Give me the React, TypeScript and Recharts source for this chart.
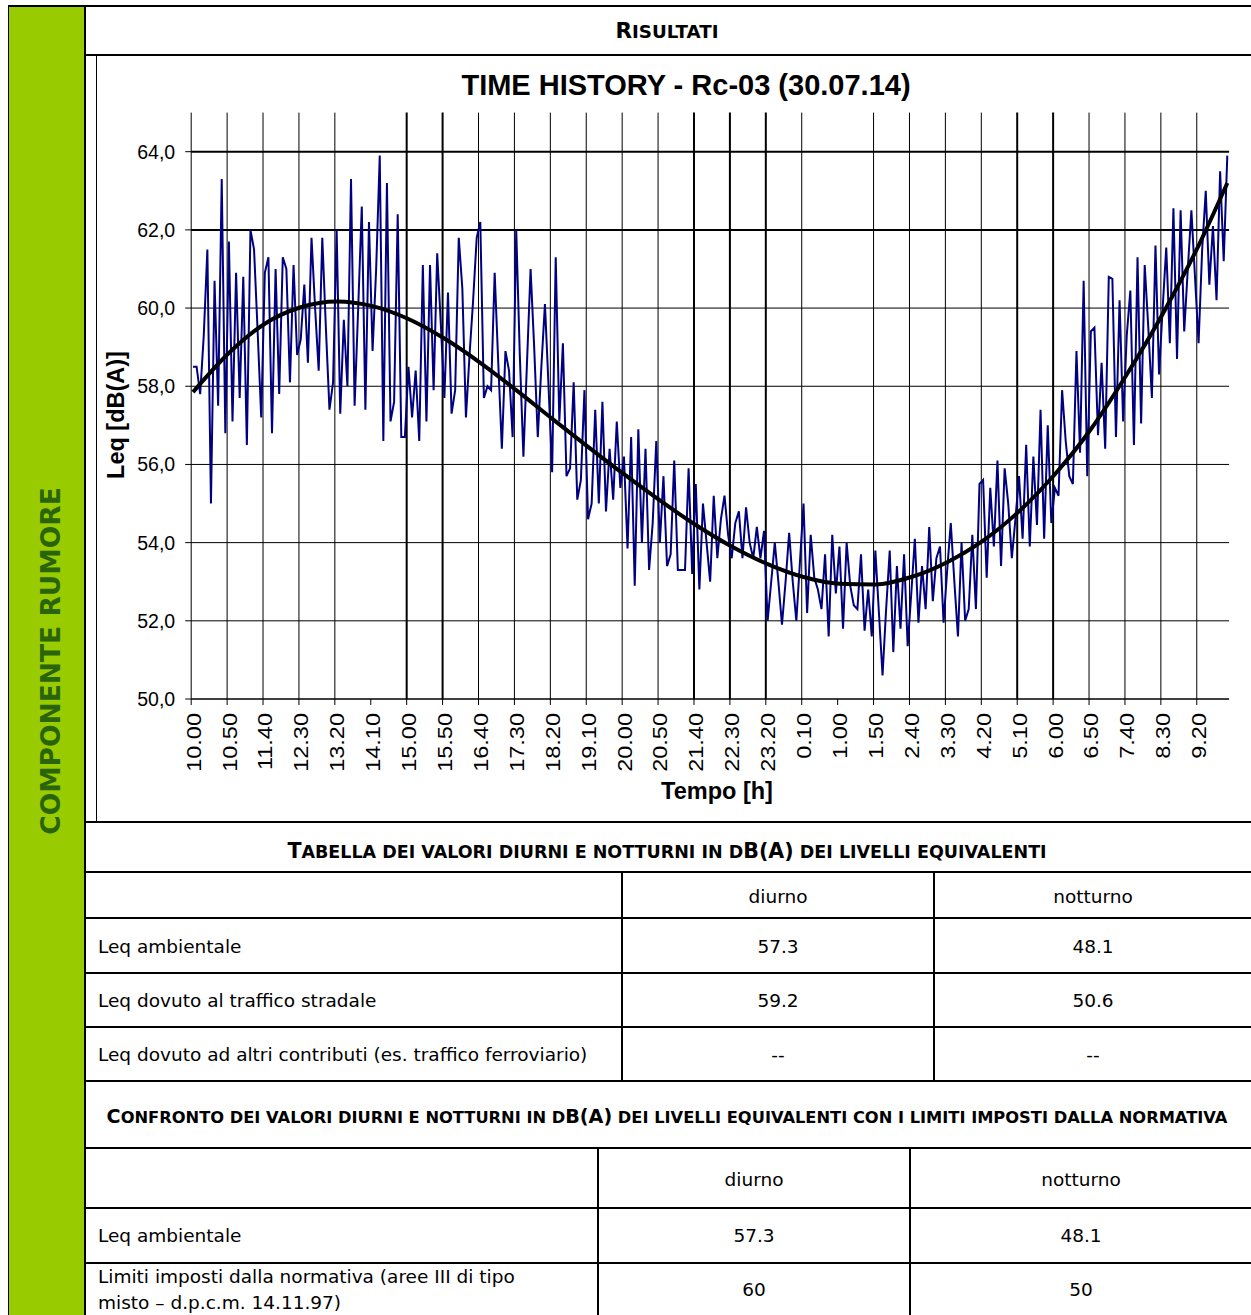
import React from 'react';
import { LineChart, Line, XAxis, YAxis, ReferenceLine } from 'recharts';

// tick labels of the time axis, one every 10 samples (5 min each)
const TIME_LABELS = [
  '10.00', '10.50', '11.40', '12.30', '13.20', '14.10', '15.00', '15.50', '16.40', '17.30',
  '18.20', '19.10', '20.00', '20.50', '21.40', '22.30', '23.20', '0.10', '1.00', '1.50',
  '2.40', '3.30', '4.20', '5.10', '6.00', '6.50', '7.40', '8.30', '9.20',
];

// Leq samples, dB(A)
const LEQ = [
  58.5, 58.5, 57.8, 59.3, 61.5, 55.0, 60.7, 57.5, 63.3, 56.8,
  61.7, 57.1, 60.9, 57.7, 60.8, 56.5, 62.0, 61.5, 59.4, 57.2,
  60.9, 61.3, 56.8, 61.0, 57.8, 61.3, 61.0, 58.1, 61.1, 58.8,
  59.2, 60.6, 58.6, 61.8, 60.0, 58.4, 61.8, 59.5, 57.4, 58.1,
  62.0, 57.3, 59.7, 58.0, 63.3, 57.5, 60.0, 62.6, 57.4, 62.2,
  58.9, 61.0, 63.9, 56.6, 63.2, 57.1, 57.6, 62.4, 56.7, 56.7,
  58.5, 57.2, 58.4, 56.6, 61.1, 57.1, 61.1, 57.9, 61.4, 59.6,
  57.7, 60.4, 57.3, 57.9, 61.8, 60.5, 57.2, 58.8, 60.2, 61.8,
  62.2, 57.7, 58.0, 57.9, 60.9, 58.6, 56.4, 58.9, 58.4, 56.7,
  62.0, 58.8, 56.2, 58.6, 61.0, 59.0, 56.7, 58.5, 60.1, 58.0,
  55.8, 61.3, 57.1, 59.1, 55.7, 55.9, 58.1, 55.1, 55.6, 57.9,
  54.6, 55.0, 57.4, 55.0, 57.6, 54.8, 56.4, 55.1, 57.1, 55.4,
  56.2, 53.85, 56.7, 52.9, 56.9, 54.0, 56.4, 53.3, 54.5, 56.6,
  54.0, 55.7, 53.4, 53.7, 56.1, 53.3, 53.3, 53.3, 55.9, 53.2,
  55.5, 52.8, 55.0, 54.0, 53.0, 55.2, 53.6, 54.6, 55.2, 54.2,
  53.6, 54.5, 54.8, 53.6, 54.9, 54.0, 53.6, 54.4, 53.6, 54.3,
  52.0, 53.0, 54.0, 53.0, 51.9, 53.0, 54.25, 53.0, 52.0, 53.5,
  55.0, 52.2, 54.2, 53.1, 52.8, 52.3, 53.7, 51.6, 54.2, 52.7,
  53.9, 51.8, 54.0, 52.9, 52.4, 52.3, 53.7, 51.75, 52.8, 51.6,
  53.8, 52.2, 50.6, 52.3, 53.8, 51.2, 53.4, 51.8, 53.7, 51.35,
  52.7, 54.1, 51.95, 53.4, 52.3, 54.4, 52.5, 53.6, 53.9, 51.95,
  53.3, 54.5, 53.0, 51.6, 54.0, 52.0, 52.3, 54.2, 52.3, 55.5,
  55.6, 53.1, 55.4, 53.9, 56.1, 53.4, 55.9, 55.0, 53.6, 54.6,
  55.7, 54.1, 56.5, 53.9, 56.2, 54.45, 57.4, 54.1, 57.0, 54.5,
  55.4, 55.2, 57.9, 56.6, 55.7, 55.5, 58.9, 56.3, 60.7, 55.7,
  59.4, 59.5, 56.75, 58.6, 56.4, 60.8, 60.75, 56.7, 60.2, 57.1,
  59.3, 60.45, 56.5, 61.3, 57.05, 61.1, 59.5, 57.7, 61.6, 58.3,
  60.0, 61.55, 59.1, 62.55, 58.7, 62.5, 59.4, 61.0, 62.5, 60.8,
  59.1, 61.5, 63.0, 60.6, 62.1, 60.2, 63.5, 61.2, 63.9,
];

// polynomial trend read at the labelled samples
const TREND_AT = [0, 10, 20, 30, 40, 50, 60, 70, 80, 90, 100, 110, 120, 130, 140, 150, 160, 170, 180, 190, 200, 210, 220, 230, 240, 250, 260, 270, 280, 288];
const TREND_DB = [
  57.85, 58.85, 59.6, 60.02, 60.17, 60.05, 59.72, 59.22, 58.6, 57.9,
  57.17, 56.45, 55.75, 55.08, 54.45, 53.9, 53.45, 53.12, 52.95, 52.93,
  53.12, 53.5, 54.05, 54.8, 55.75, 56.9, 58.3, 59.85, 61.6, 63.2,
];

const Y_TICKS = [50, 52, 54, 56, 58, 60, 62, 64];
const X_TICKS = TIME_LABELS.map((_, j) => j * 10 - 0.5);
// labels whose vertical gridline is missing in the original, and the heavier ones
const NO_GRID = [5, 18];
const BOLD_GRID = [6, 7, 14, 15, 16, 23, 24];

const noiseRows = LEQ.map((v, k) => ({ k, leq: v }));
const trendRows = TREND_AT.map((k, i) => ({ k, trend: TREND_DB[i] }));

const CHART_FONT = "'Liberation Sans', Arial, sans-serif";
const DOC_FONT = "'DejaVu Sans', Verdana, sans-serif";

function TimeTick(props: any) {
  const { x, y, payload } = props;
  const label = TIME_LABELS[Math.round((payload.value + 0.5) / 10)];
  return (
    <text
      transform={`translate(${x + 9.4},${y + 6}) rotate(-90) scale(1.12,1)`}
      textAnchor="end"
      fontFamily={CHART_FONT}
      fontSize={21}
      fill="#000"
    >
      {label}
    </text>
  );
}

function DbTick(props: any) {
  const { x, y, payload } = props;
  return (
    <text x={x - 8} y={y} dy={7} textAnchor="end" fontFamily={CHART_FONT} fontSize={19.5} fill="#000">
      {payload.value.toFixed(1).replace('.', ',')}
    </text>
  );
}

function SmallCaps({ text, size, ratio = 0.85 }: { text: string; size: number; ratio?: number }) {
  // capitals stay full size, lower case letters become smaller capitals
  const runs: { s: string; small: boolean }[] = [];
  for (const ch of text) {
    const small = ch !== ch.toUpperCase() || ch === ' ';
    const last = runs[runs.length - 1];
    if (last && last.small === small) last.s += ch;
    else runs.push({ s: ch, small });
  }
  return (
    <>
      {runs.map((r, i) => (
        <span key={i} style={{ fontSize: r.small ? size * ratio : size }}>
          {r.s.toUpperCase()}
        </span>
      ))}
    </>
  );
}

function HLine({ y, x1, x2, w = 2 }: { y: number; x1: number; x2: number; w?: number }) {
  return <div style={{ position: 'absolute', left: x1, top: y, width: x2 - x1, height: w, background: '#000' }} />;
}

function VLine({ x, y1, y2, w = 2 }: { x: number; y1: number; y2: number; w?: number }) {
  return <div style={{ position: 'absolute', left: x, top: y1, width: w, height: y2 - y1, background: '#000' }} />;
}

function Txt({ x, y, children, align = 'center', size = 18.5, bold = false, font = DOC_FONT }: any) {
  const base: React.CSSProperties = {
    position: 'absolute',
    top: y - 15,
    height: 30,
    lineHeight: '30px',
    fontFamily: font,
    fontSize: size,
    fontWeight: bold ? 'bold' : 'normal',
    whiteSpace: 'nowrap',
    color: '#000',
  };
  if (align === 'left') return <div style={{ ...base, left: x }}>{children}</div>;
  return <div style={{ ...base, left: x - 700, width: 1400, textAlign: 'center' }}>{children}</div>;
}

export default function App() {
  return (
    <div style={{ position: 'absolute', left: 0, top: 0, width: 1251, height: 1315, overflow: 'hidden', background: '#fff' }}>
      {/* green side column */}
      <div style={{ position: 'absolute', left: 8, top: 5, width: 77, height: 1320, background: '#99cc00' }} />
      <div
        style={{
          position: 'absolute',
          left: 50,
          top: 661,
          transform: 'translate(-50%, -50%) rotate(-90deg)',
          whiteSpace: 'nowrap',
          fontFamily: DOC_FONT,
          fontWeight: 'bold',
          fontSize: 26.5,
          color: '#2a6408',
        }}
      >
        COMPONENTE RUMORE
      </div>
      <VLine x={8} y1={5} y2={1315} w={1} />
      <VLine x={84} y1={5} y2={1315} />
      <HLine y={5} x1={8} x2={1251} />

      {/* header */}
      <Txt x={667} y={31} bold size={21.5}>
        <SmallCaps text="Risultati" size={21.5} />
      </Txt>
      <HLine y={54} x1={85} x2={1251} />

      {/* chart */}
      <VLine x={96} y1={56} y2={822} w={1} />
      <Txt x={686} y={85} bold size={29} font={CHART_FONT}>
        TIME HISTORY - Rc-03 (30.07.14)
      </Txt>
      <div
        style={{
          position: 'absolute',
          left: 116,
          top: 415,
          transform: 'translate(-50%, -50%) rotate(-90deg)',
          whiteSpace: 'nowrap',
          fontFamily: CHART_FONT,
          fontWeight: 'bold',
          fontSize: 23.5,
        }}
      >
        Leq [dB(A)]
      </div>
      <Txt x={717} y={791} bold size={23.5} font={CHART_FONT}>
        Tempo [h]
      </Txt>
      <div style={{ position: 'absolute', left: 95, top: 56 }}>
        <LineChart
          width={1156}
          height={766}
          data={noiseRows}
          margin={{ top: 56.6, right: 21.9, bottom: 23, left: 36.2 }}
        >
          <XAxis
            type="number"
            dataKey="k"
            domain={[-0.5, 288.5]}
            ticks={X_TICKS}
            interval={0}
            allowDataOverflow
            height={100}
            tickSize={6}
            tickLine={{ stroke: '#000', strokeWidth: 1 }}
            axisLine={{ stroke: '#000', strokeWidth: 1.5 }}
            tick={<TimeTick />}
          />
          <YAxis
            type="number"
            domain={[50, 65]}
            ticks={Y_TICKS}
            interval={0}
            allowDataOverflow
            width={60}
            tickSize={6}
            tickLine={{ stroke: '#000', strokeWidth: 1 }}
            axisLine={{ stroke: '#000', strokeWidth: 1 }}
            tick={<DbTick />}
          />
          {Y_TICKS.slice(1).map((v) => (
            <ReferenceLine key={'h' + v} y={v} stroke="#000" strokeWidth={v >= 62 ? 2 : 1} />
          ))}
          {X_TICKS.map((k, j) =>
            j === 0 || NO_GRID.includes(j) ? null : (
              <ReferenceLine key={'v' + j} x={k} stroke="#000" strokeWidth={BOLD_GRID.includes(j) ? 2 : 1} />
            )
          )}
          <Line
            dataKey="leq"
            type="linear"
            stroke="#000080"
            strokeWidth={2}
            dot={false}
            isAnimationActive={false}
          />
          <Line
            data={trendRows}
            dataKey="trend"
            type="monotone"
            stroke="#000"
            strokeWidth={4}
            dot={false}
            isAnimationActive={false}
          />
        </LineChart>
      </div>
      <HLine y={821} x1={85} x2={1251} />

      {/* table 1 */}
      <Txt x={667} y={851} bold size={20.6}>
        <SmallCaps text="Tabella dei valori diurni e notturni in dB(A) dei livelli equivalenti" size={20.6} />
      </Txt>
      <HLine y={871} x1={85} x2={1251} />
      <HLine y={917} x1={85} x2={1251} />
      <HLine y={972} x1={85} x2={1251} />
      <HLine y={1026} x1={85} x2={1251} />
      <HLine y={1080} x1={85} x2={1251} />
      <VLine x={621} y1={872} y2={1081} />
      <VLine x={933} y1={872} y2={1081} />
      <Txt x={778} y={897}>diurno</Txt>
      <Txt x={1093} y={897}>notturno</Txt>
      <Txt x={98} y={947} align="left">Leq ambientale</Txt>
      <Txt x={778} y={947}>57.3</Txt>
      <Txt x={1093} y={947}>48.1</Txt>
      <Txt x={98} y={1001} align="left">Leq dovuto al traffico stradale</Txt>
      <Txt x={778} y={1001}>59.2</Txt>
      <Txt x={1093} y={1001}>50.6</Txt>
      <Txt x={98} y={1055} align="left">Leq dovuto ad altri contributi (es. traffico ferroviario)</Txt>
      <Txt x={778} y={1055}>--</Txt>
      <Txt x={1093} y={1055}>--</Txt>

      {/* table 2 */}
      <Txt x={667} y={1117} bold size={19.15}>
        <SmallCaps
          text="Confronto dei valori diurni e notturni in dB(A) dei livelli equivalenti con i limiti imposti dalla normativa"
          size={19.15}
        />
      </Txt>
      <HLine y={1147} x1={85} x2={1251} />
      <HLine y={1207} x1={85} x2={1251} />
      <HLine y={1262} x1={85} x2={1251} />
      <VLine x={597} y1={1148} y2={1315} />
      <VLine x={909} y1={1148} y2={1315} />
      <Txt x={754} y={1180}>diurno</Txt>
      <Txt x={1081} y={1180}>notturno</Txt>
      <Txt x={98} y={1236} align="left">Leq ambientale</Txt>
      <Txt x={754} y={1236}>57.3</Txt>
      <Txt x={1081} y={1236}>48.1</Txt>
      <Txt x={98} y={1277} align="left">Limiti imposti dalla normativa (aree III di tipo</Txt>
      <Txt x={98} y={1303} align="left">misto – d.p.c.m. 14.11.97)</Txt>
      <Txt x={754} y={1290}>60</Txt>
      <Txt x={1081} y={1290}>50</Txt>
    </div>
  );
}
